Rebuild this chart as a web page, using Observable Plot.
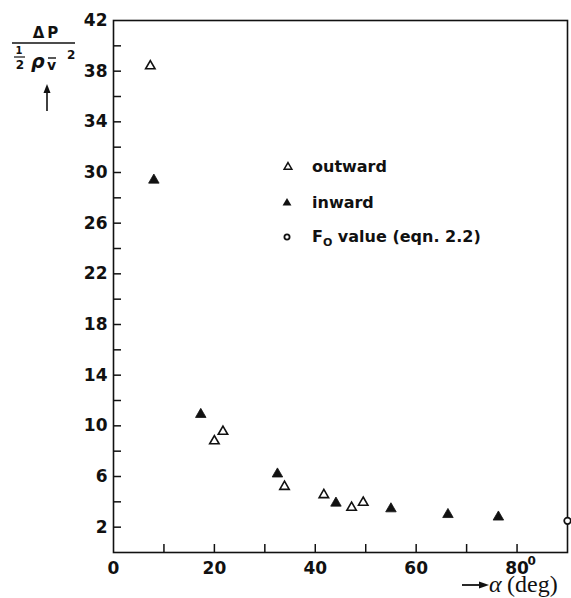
<!DOCTYPE html>
<html>
<head>
<meta charset="utf-8">
<script src="https://cdn.jsdelivr.net/npm/d3@7"></script>
<script src="https://cdn.jsdelivr.net/npm/@observablehq/plot@0.6"></script>
<style>
  html, body { margin: 0; padding: 0; background: #fff; }
  #chart { position: relative; width: 571px; height: 598px; }
</style>
</head>
<body>
<div id="chart"></div>
<script>
// ---- data ----
const outwardAlpha = [7.3, 20.0, 21.7, 33.9, 41.7, 47.2, 49.5];
const outwardDP    = [38.4, 8.8, 9.55, 5.2, 4.55, 3.55, 3.95];
const inwardAlpha  = [8.0, 17.3, 32.5, 44.1, 55.0, 66.3, 76.3];
const inwardDP     = [29.4, 10.9, 6.2, 3.9, 3.45, 3.0, 2.8];
const f0Alpha = [90];
const f0DP    = [2.5];
const yTickLabels = [2, 6, 10, 14, 18, 22, 26, 30, 34, 38, 42];
const yTicks = [2, 4, 6, 8, 10, 12, 14, 16, 18, 20, 22, 24, 26, 28, 30, 32, 34, 36, 38, 40];
const xTickLabels = [0, 20, 40, 60, 80];
const xTicks = [10, 20, 30, 40, 50, 60, 70, 80];
const legendLabels = ["outward", "inward", "F₀ value (eqn. 2.2)"];

const outward = outwardAlpha.map((a, i) => ({a, v: outwardDP[i]}));
const inward = inwardAlpha.map((a, i) => ({a, v: inwardDP[i]}));
const f0 = f0Alpha.map((a, i) => ({a, v: f0DP[i]}));

const plot = Plot.plot({
  width: 571,
  height: 598,
  marginLeft: 113,
  marginTop: 20,
  marginRight: 4,
  marginBottom: 46,
  style: {fontFamily: "DejaVu Sans", fontSize: "17px", fontWeight: "bold", background: "#fff", color: "#111"},
  x: {domain: [0, 90]},
  y: {domain: [0, 42]},
  marks: [
    Plot.frame({stroke: "#111", strokeWidth: 1.6}),
    Plot.axisY({ticks: yTicks, tickSize: -8, strokeWidth: 1.5, tickFormat: () => "", label: null}),
    Plot.axisY({ticks: yTickLabels, tickSize: 0, tickPadding: 6, label: null}),
    Plot.axisX({ticks: xTicks, tickSize: -8, strokeWidth: 1.5, tickFormat: () => "", label: null}),
    Plot.axisX({ticks: xTickLabels, tickSize: 0, tickPadding: 9, label: null}),
    Plot.dot(outward, {x: "a", y: "v", symbol: "triangle", r: 3.5, stroke: "#111", strokeWidth: 1.6, fill: "white"}),
    Plot.dot(inward, {x: "a", y: "v", symbol: "triangle", r: 3.9, fill: "#111", stroke: "#111", strokeWidth: 0.8}),
    Plot.dot(f0, {x: "a", y: "v", symbol: "circle", r: 3.3, stroke: "#111", strokeWidth: 1.7, fill: "white"})
  ]
});
document.getElementById("chart").appendChild(plot);

const svg = d3.select(plot);
const xs = plot.scale("x");
const ys = plot.scale("y");

// superscript "0" after the 80 tick label
svg.append("text")
  .attr("text-anchor", "start")
  .attr("x", xs.apply(80) + 11).attr("y", ys.apply(0) + 13)
  .attr("font-family", "DejaVu Sans").attr("font-size", 12).attr("font-weight", "bold")
  .attr("fill", "#111").text("0");

// y label: ΔP / (½ ρ v̄ ²)
const yl = svg.append("g").attr("fill", "#111").attr("font-family", "DejaVu Sans").attr("font-weight", "bold").attr("text-anchor", "start");
yl.append("text").attr("x", 47).attr("y", 38).attr("text-anchor", "middle").attr("font-size", 15)
  .attr("letter-spacing", 3).text("ΔP");
yl.append("line").attr("x1", 12).attr("x2", 75).attr("y1", 43).attr("y2", 43).attr("stroke", "#111").attr("stroke-width", 1.6);
yl.append("text").attr("x", 19).attr("y", 54).attr("text-anchor", "middle").attr("font-size", 10).text("1");
yl.append("line").attr("x1", 14).attr("x2", 25).attr("y1", 57).attr("y2", 57).attr("stroke", "#111").attr("stroke-width", 1.2);
yl.append("text").attr("x", 20).attr("y", 69).attr("text-anchor", "middle").attr("font-size", 12).text("2");
yl.append("text").attr("x", 31).attr("y", 68).attr("font-size", 19).attr("font-style", "italic").text("ρ");
yl.append("text").attr("x", 47).attr("y", 70).attr("font-size", 14).text("v");
yl.append("line").attr("x1", 48).attr("x2", 56).attr("y1", 58).attr("y2", 58).attr("stroke", "#111").attr("stroke-width", 1.4);
yl.append("text").attr("x", 67).attr("y", 59).attr("font-size", 12).text("2");
yl.append("line").attr("x1", 47).attr("x2", 47).attr("y1", 90).attr("y2", 111).attr("stroke", "#111").attr("stroke-width", 1.6);
yl.append("path").attr("d", "M47,84 L43.5,93 L50.5,93 Z").attr("fill", "#111");

// x label: → α (deg)
const xl = svg.append("g").attr("fill", "#111").attr("text-anchor", "start").attr("font-weight", "normal");
xl.append("line").attr("x1", 462).attr("x2", 480).attr("y1", 585).attr("y2", 585).attr("stroke", "#111").attr("stroke-width", 1.8);
xl.append("path").attr("d", "M489,585 L479,581.5 L479,588.5 Z");
xl.append("text").attr("x", 489).attr("y", 592).attr("font-family", "Liberation Serif").attr("font-style", "italic")
  .attr("font-size", 24).text("α");
xl.append("text").attr("x", 507).attr("y", 592).attr("font-family", "Liberation Serif")
  .attr("font-size", 24).text("(deg)");

// legend
const lg = svg.append("g").attr("fill", "#111").attr("font-family", "DejaVu Sans").attr("font-weight", "bold").attr("font-size", 16).attr("text-anchor", "start");
const legendY = [167, 203, 237];
lg.append("path").attr("d", d3.symbol(d3.symbolTriangle, 26)()).attr("transform", `translate(288,${legendY[0]})`).attr("fill", "white").attr("stroke", "#111").attr("stroke-width", 1.5);
lg.append("path").attr("d", d3.symbol(d3.symbolTriangle, 34)()).attr("transform", `translate(287,${legendY[1]})`).attr("fill", "#111");
lg.append("circle").attr("cx", 287).attr("cy", legendY[2]).attr("r", 2.6).attr("fill", "white").attr("stroke", "#111").attr("stroke-width", 1.8);
lg.append("text").attr("x", 312).attr("y", legendY[0] + 5).text(legendLabels[0]);
lg.append("text").attr("x", 312).attr("y", legendY[1] + 5).text(legendLabels[1]);
const t3 = lg.append("text").attr("x", 312).attr("y", legendY[2] + 5);
t3.append("tspan").text("F");
t3.append("tspan").attr("font-size", 11).attr("dy", 4).text("O");
t3.append("tspan").attr("dy", -4).text(" value (eqn. 2.2)");
</script>
</body>
</html>
